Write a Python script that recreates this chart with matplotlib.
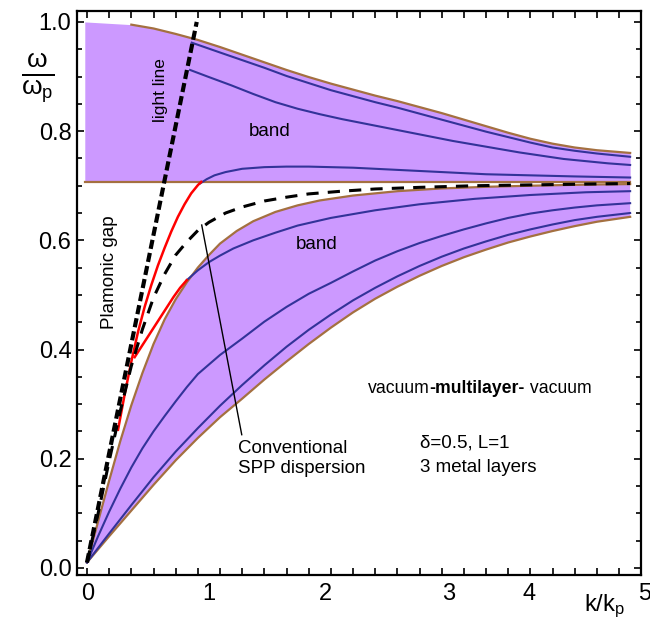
import numpy as np
import matplotlib
matplotlib.use('Agg')
import matplotlib.pyplot as plt
from matplotlib.ticker import MultipleLocator

plt.rcParams['font.family'] = ['Liberation Sans', 'DejaVu Sans']
plt.rcParams['mathtext.fontset'] = 'custom'
plt.rcParams['mathtext.rm'] = 'Liberation Sans'
plt.rcParams['mathtext.it'] = 'Liberation Sans'

# upper band (above omega_p/sqrt(2))
up_top_k = [-0.02, 0.4, 0.6, 0.8, 1.0, 1.2, 1.4, 1.6, 1.8, 2.0, 2.2, 2.4, 2.6, 2.8,
            3.0, 3.2, 3.4, 3.6, 3.8, 4.0, 4.2, 4.4, 4.6, 4.9]
up_top_w = [1.0, 0.995, 0.988, 0.978, 0.967, 0.954, 0.940, 0.926, 0.912, 0.899, 0.887,
            0.876, 0.865, 0.855, 0.844, 0.833, 0.821, 0.809, 0.797, 0.786, 0.777, 0.770,
            0.765, 0.760]
up_bot_k = [-0.02, 4.90]
up_bot_w = [0.707, 0.707]

up_blue1_k = [0.945, 1.2, 1.4, 1.6, 1.8, 2.0, 2.2, 2.4, 2.6, 2.8, 3.0, 3.2, 3.4, 3.6,
              3.8, 4.0, 4.2, 4.4, 4.6, 4.9]
up_blue1_w = [0.962, 0.944, 0.930, 0.916, 0.901, 0.888, 0.875, 0.864, 0.853, 0.843,
              0.832, 0.821, 0.810, 0.799, 0.789, 0.779, 0.770, 0.764, 0.759, 0.753]
up_blue2_k = [0.93, 1.1, 1.3, 1.5, 1.7, 1.9, 2.1, 2.3, 2.5, 2.7, 2.9, 3.1, 3.3, 3.5,
              3.7, 3.9, 4.1, 4.3, 4.5, 4.7, 4.9]
up_blue2_w = [0.912, 0.899, 0.884, 0.868, 0.853, 0.841, 0.831, 0.822, 0.814, 0.806,
              0.798, 0.790, 0.782, 0.775, 0.768, 0.761, 0.755, 0.749, 0.745, 0.741, 0.738]
up_blue3_k = [1.02, 1.08, 1.15, 1.25, 1.4, 1.6, 1.8, 2.0, 2.4, 2.8, 3.2, 3.6, 4.0, 4.4, 4.9]
up_blue3_w = [0.704, 0.712, 0.719, 0.725, 0.731, 0.734, 0.735, 0.735, 0.733, 0.729,
              0.725, 0.721, 0.719, 0.717, 0.715]

# lower band
lo_top_k = [0, 0.1, 0.2, 0.3, 0.4, 0.5, 0.6, 0.7, 0.8, 0.9, 1.0, 1.1, 1.2, 1.35, 1.5,
            1.7, 1.9, 2.1, 2.4, 2.8, 3.2, 3.6, 4.0, 4.5, 4.9]
lo_top_w = [0.01, 0.085, 0.16, 0.232, 0.298, 0.357, 0.41, 0.455, 0.492, 0.523, 0.550,
            0.573, 0.594, 0.617, 0.635, 0.652, 0.664, 0.673, 0.682, 0.690, 0.695, 0.698,
            0.700, 0.702, 0.703]
lo_bot_k = [0, 0.2, 0.4, 0.6, 0.8, 1.0, 1.2, 1.4, 1.6, 1.8, 2.0, 2.2, 2.4, 2.6, 2.8,
            3.0, 3.2, 3.4, 3.6, 3.8, 4.0, 4.2, 4.4, 4.6, 4.9]
lo_bot_w = [0.01, 0.058, 0.105, 0.152, 0.197, 0.238, 0.276, 0.31, 0.345, 0.378, 0.41,
            0.44, 0.468, 0.493, 0.515, 0.535, 0.553, 0.569, 0.583, 0.596, 0.607, 0.617,
            0.626, 0.634, 0.643]

lo_blue1_k = [0.90, 1.0, 1.1, 1.2, 1.32, 1.5, 1.7, 1.9, 2.2, 2.6, 3.0, 3.5, 4.0, 4.5, 4.9]
lo_blue1_w = [0.527, 0.545, 0.560, 0.572, 0.585, 0.600, 0.614, 0.627, 0.641, 0.655,
              0.666, 0.676, 0.683, 0.688, 0.690]
lo_blue2_k = [0, 0.1, 0.2, 0.3, 0.4, 0.5, 0.6, 0.7, 0.8, 0.9, 1.0, 1.2, 1.4, 1.6, 1.8,
              2.0, 2.2, 2.4, 2.6, 2.8, 3.0, 3.2, 3.4, 3.6, 3.8, 4.0, 4.2, 4.4, 4.6, 4.9]
lo_blue2_w = [0.01, 0.058, 0.103, 0.145, 0.184, 0.219, 0.25, 0.278, 0.305, 0.331, 0.355,
              0.39, 0.42, 0.451, 0.478, 0.502, 0.522, 0.543, 0.563, 0.58, 0.595, 0.608,
              0.62, 0.631, 0.641, 0.649, 0.655, 0.66, 0.664, 0.668]
lo_blue3_k = [0, 0.2, 0.4, 0.6, 0.8, 1.0, 1.2, 1.4, 1.6, 1.8, 2.0, 2.2, 2.4, 2.6, 2.8,
              3.0, 3.2, 3.4, 3.6, 3.8, 4.0, 4.2, 4.4, 4.6, 4.9]
lo_blue3_w = [0.01, 0.063, 0.115, 0.166, 0.213, 0.256, 0.297, 0.335, 0.371, 0.405, 0.436,
              0.464, 0.49, 0.513, 0.534, 0.553, 0.57, 0.585, 0.598, 0.61, 0.62, 0.629,
              0.637, 0.643, 0.650]

# red branches
red1_k = [0.28, 0.34, 0.40, 0.46, 0.52, 0.58, 0.64, 0.70, 0.76, 0.82, 0.88, 0.94, 1.00, 1.03]
red1_w = [0.253, 0.318, 0.378, 0.432, 0.478, 0.518, 0.554, 0.586, 0.616, 0.643, 0.666,
          0.686, 0.701, 0.707]
red2_k = [0.43, 0.50, 0.57, 0.64, 0.71, 0.78, 0.84, 0.90]
red2_w = [0.386, 0.408, 0.430, 0.452, 0.474, 0.496, 0.513, 0.527]

# light line and conventional SPP
light_k = [0, 0.99]
light_w = [0.01, 1.0]
spp_k = [0, 0.1, 0.2, 0.3, 0.4, 0.5, 0.6, 0.7, 0.8, 0.9, 1.0, 1.1, 1.25, 1.4, 1.6, 1.8,
         2.0, 2.3, 2.6, 3.0, 3.5, 4.0, 4.5, 4.9]
spp_w = [0.01, 0.0995, 0.196, 0.287, 0.37, 0.437, 0.495, 0.538, 0.573, 0.597, 0.618,
         0.633, 0.65, 0.661, 0.672, 0.679, 0.685, 0.690, 0.694, 0.697, 0.700, 0.7015,
         0.703, 0.704]

xtick_labels = ['0', '1', '2', '3', '4', '5']
xtick_label_pos = [0.01, 1.10, 2.15, 3.26, 3.99, 5.03]

purple = '#cc99ff'
brown = '#a47040'
blue = '#333399'

fig = plt.figure(figsize=(6.5, 6.25), dpi=100)
ax = fig.add_axes([0.1185, 0.08, 0.868, 0.9024])

ax.fill_between(up_top_k, up_top_w, 0.707, color=purple, lw=0, zorder=1)
ax.fill(np.r_[lo_top_k, lo_bot_k[::-1]], np.r_[lo_top_w, lo_bot_w[::-1]],
        color=purple, lw=0, zorder=1)

ax.plot(up_top_k[1:], up_top_w[1:], color=brown, lw=1.6, zorder=2)
ax.plot(up_bot_k, up_bot_w, color=brown, lw=1.6, zorder=2)
ax.plot(lo_top_k, lo_top_w, color=brown, lw=1.6, zorder=2)
ax.plot(lo_bot_k, lo_bot_w, color=brown, lw=1.6, zorder=2)

for k, w in [(up_blue1_k, up_blue1_w), (up_blue2_k, up_blue2_w), (up_blue3_k, up_blue3_w),
             (lo_blue1_k, lo_blue1_w), (lo_blue2_k, lo_blue2_w), (lo_blue3_k, lo_blue3_w)]:
    ax.plot(k, w, color=blue, lw=1.5, zorder=3)

ax.plot(red1_k, red1_w, color='red', lw=1.8, zorder=4)
ax.plot(red2_k, red2_w, color='red', lw=1.8, zorder=4)

ax.plot(spp_k, spp_w, color='black', lw=2.2, ls=(0, (4, 3)), zorder=5)
ax.plot(light_k, light_w, color='black', lw=3, ls=(0, (2.2, 1.0)), zorder=6)

# annotations
ax.text(0.66, 0.875, 'light line', rotation=90, ha='center', va='center', fontsize=12.5)
ax.text(1.65, 0.80, 'band', ha='center', va='center', fontsize=13.5)
ax.text(2.07, 0.592, 'band', ha='center', va='center', fontsize=13.5)
ax.text(0.20, 0.541, 'Plamonic gap', rotation=90, ha='center', va='center', fontsize=13.5)
ax.plot([1.035, 1.396], [0.628, 0.244], color='black', lw=1, zorder=7)
ax.text(1.36, 0.200, 'Conventional\nSPP dispersion', ha='left', va='center',
        fontsize=13.5, linespacing=1.25)

# "vacuum-multilayer- vacuum" with the middle part heavier
t1 = ax.text(2.53, 0.328, 'vacuum', ha='left', va='center', fontsize=12.7)
t2 = ax.annotate('-multilayer-', xy=(1, 0), xycoords=t1, ha='left', va='bottom',
                 fontsize=12.7, weight='bold')
ax.annotate(' vacuum', xy=(1, 0), xycoords=t2, ha='left', va='bottom', fontsize=12.7)

ax.text(3.0, 0.229, 'δ=0.5, L=1', ha='left', va='center', fontsize=13.5)
ax.text(3.0, 0.183, '3 metal layers', ha='left', va='center', fontsize=13.5)

ax.set_xlim(-0.09, 5.0)
ax.set_ylim(-0.013, 1.02)

ax.xaxis.set_major_locator(MultipleLocator(0.2))
ax.set_xticklabels([])
for lab, pos in zip(xtick_labels, xtick_label_pos):
    ax.text(pos, -0.015, lab, transform=ax.get_xaxis_transform(), ha='center', va='top',
            fontsize=17)
ax.yaxis.set_minor_locator(MultipleLocator(0.05))
ax.set_yticks([0, 0.2, 0.4, 0.6, 0.8, 1.0])
ax.set_yticklabels(['0.0', '0.2', '0.4', '0.6', '0.8', '1.0'], fontsize=17)

ax.tick_params(which='both', direction='in', top=True, right=True, width=1.2)
ax.tick_params(which='major', length=5, pad=4)
ax.tick_params(which='minor', length=3.5)
for s in ax.spines.values():
    s.set_linewidth(1.6)

fig.text(0.058, 0.875, r'$\frac{\omega}{\omega_p}$', fontsize=27, ha='center', va='center')
fig.text(0.93, 0.03, r'k/k$_\mathrm{p}$', fontsize=17, ha='center', va='center')

fig.savefig('out.png', dpi=100)
